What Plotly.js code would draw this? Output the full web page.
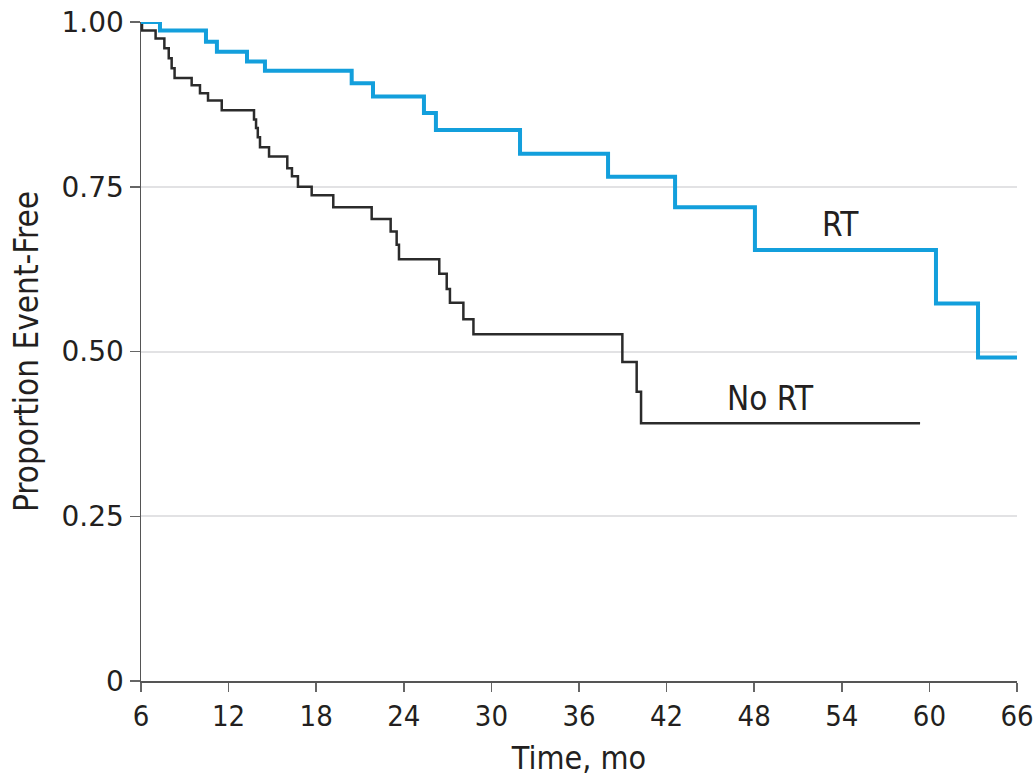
<!DOCTYPE html>
<html>
<head>
<meta charset="utf-8">
<script src="https://cdn.plot.ly/plotly-3.0.1.min.js"></script>
<style>html,body{margin:0;padding:0;background:#fff;}</style>
</head>
<body>
<div id="chart" style="width:1036px;height:780px;"></div>
<script>
// RT group (Kaplan-Meier steps)
const rtTime = [6, 7.3, 10.45, 11.2, 13.26, 14.49, 20.43, 21.89, 25.38, 26.2, 31.96, 37.99, 42.58, 48.05, 60.45, 63.33, 66];
const rtSurv = [1.0, 0.987, 0.970, 0.955, 0.940, 0.926, 0.907, 0.887, 0.862, 0.836, 0.800, 0.765, 0.719, 0.654, 0.573, 0.491, 0.491];

// No RT group
const noRtTime = [6, 6.07, 7.0, 7.6, 7.9, 8.1, 8.3, 9.47, 10.04, 10.59, 11.53, 13.74, 13.88, 14.0, 14.15, 14.77, 16.02, 16.34, 16.75, 17.69, 19.17, 21.8, 23.1, 23.51, 23.67, 26.43, 26.94, 27.16, 28.08, 28.77, 38.97, 39.95, 40.25, 59.36];
const noRtSurv = [1.0, 0.987, 0.975, 0.96, 0.945, 0.93, 0.915, 0.904, 0.892, 0.881, 0.866, 0.852, 0.839, 0.825, 0.810, 0.796, 0.778, 0.766, 0.750, 0.737, 0.719, 0.701, 0.682, 0.662, 0.640, 0.618, 0.595, 0.574, 0.549, 0.526, 0.484, 0.439, 0.391, 0.391];

const xTicks = [6, 12, 18, 24, 30, 36, 42, 48, 54, 60, 66];
const yTicks = [0, 0.25, 0.5, 0.75, 1.0];
const yTickText = ['0', '0.25', '0.50', '0.75', '1.00'];

const labelNames = ['RT', 'No RT'];
const labelX = [53.9, 49.1];
const labelY = [0.693, 0.429];

const narrow = '"DejaVu Sans Condensed", "Liberation Sans Narrow", "Liberation Sans", sans-serif';
const textColor = '#231f20';

const traces = [
  {
    x: noRtTime, y: noRtSurv, type: 'scatter', mode: 'lines',
    line: {shape: 'hv', color: '#2b2b2b', width: 2.5},
    name: 'No RT', hoverinfo: 'x+y'
  },
  {
    x: rtTime, y: rtSurv, type: 'scatter', mode: 'lines',
    line: {shape: 'hv', color: '#139fdc', width: 4},
    name: 'RT', hoverinfo: 'x+y'
  }
];

const layout = {
  width: 1036, height: 780,
  margin: {l: 141, r: 19, t: 22, b: 99, pad: 0},
  paper_bgcolor: '#ffffff', plot_bgcolor: '#ffffff',
  showlegend: false,
  xaxis: {
    range: [6, 66],
    tickvals: xTicks,
    ticktext: xTicks.map(String),
    ticks: 'outside', ticklen: 9, tickwidth: 1.5, tickcolor: '#666',
    showline: true, linecolor: '#555', linewidth: 1.5,
    showgrid: false, zeroline: false,
    ticklabeloverflow: 'allow',
    tickfont: {family: narrow, size: 29, color: textColor},
    title: {text: 'Time, mo', font: {family: narrow, size: 32, color: textColor}, standoff: 14},
    automargin: false, fixedrange: true
  },
  yaxis: {
    range: [0, 1.0],
    tickvals: yTicks,
    ticktext: yTickText,
    ticks: 'outside', ticklen: 10, tickwidth: 1.5, tickcolor: '#666',
    showline: true, linecolor: '#555', linewidth: 1.5,
    showgrid: true, gridcolor: '#e2e2e4', gridwidth: 2,
    zeroline: false,
    ticklabeloverflow: 'allow',
    tickfont: {family: '"DejaVu Sans", "Liberation Sans", sans-serif', size: 28, color: textColor},
    title: {text: 'Proportion Event-Free', font: {family: narrow, size: 33, color: textColor}, standoff: 13},
    automargin: false, fixedrange: true
  },
  annotations: labelNames.map((t, i) => ({
    x: labelX[i], y: labelY[i], xref: 'x', yref: 'y',
    text: t, showarrow: false,
    font: {family: narrow, size: 33, color: textColor},
    xanchor: 'center', yanchor: 'middle'
  }))
};

Plotly.newPlot('chart', traces, layout, {displayModeBar: false, staticPlot: true});
</script>
</body>
</html>
